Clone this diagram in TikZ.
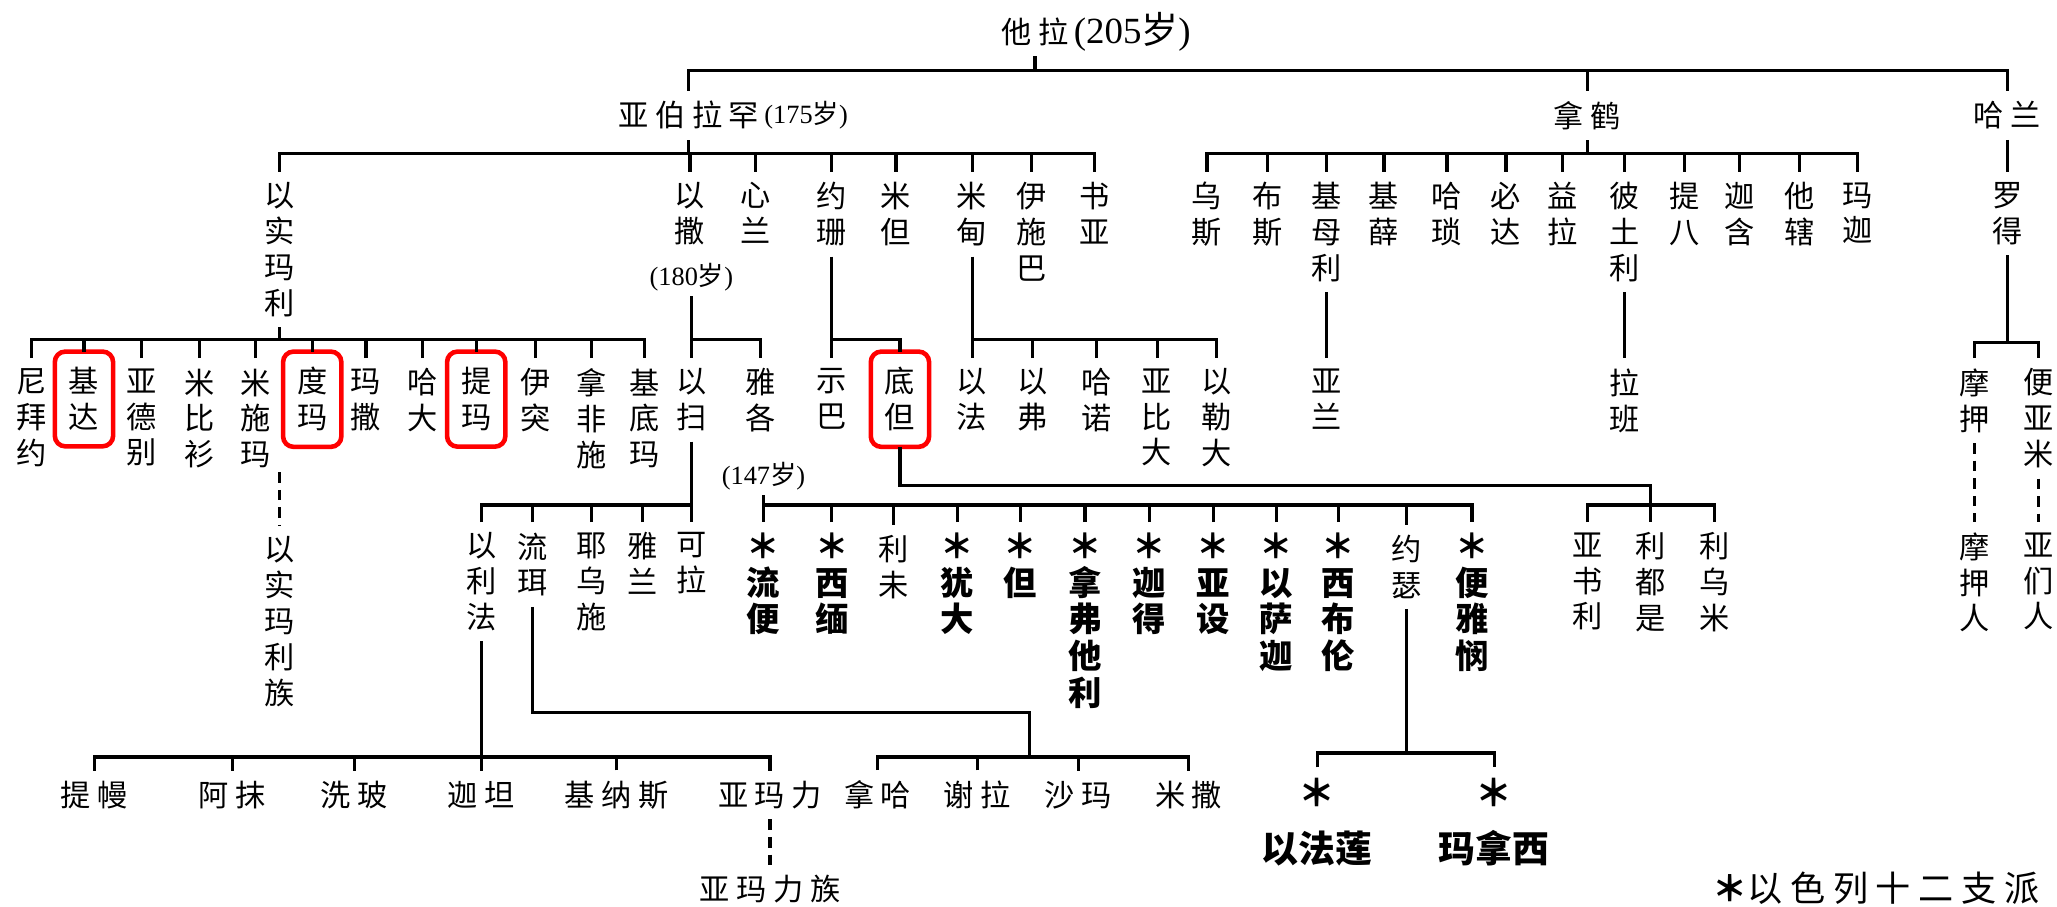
\documentclass[tikz,border=0pt]{standalone}
\usepackage{fontspec}
\setmainfont{Liberation Serif}
\newfontfamily\cjk{Noto Sans CJK SC}
\newcommand\chsp{\hspace{0.22em}}
\newcommand\vnfont{\cjk\fontsize{8.6}{10.2}\selectfont}
\newcommand\tbfont{\cjk\bfseries\fontsize{9.5}{10.45}\selectfont}
\newcommand\hbfont{\cjk\bfseries\fontsize{10.5}{12}\selectfont}
\newcommand\agefont{\fontsize{7.5}{8}\selectfont}
\newcommand\sui{{\cjk 岁}}

\begin{document}
\begin{tikzpicture}
[
  x=0.01312cm, y=-0.01312cm,
  line/.style={line width=0.9pt},
  kin/.style={line width=0.9pt,dash pattern=on 3pt off 2pt},
  vn/.style={font=\vnfont,align=center,inner sep=1pt,outer sep=2pt,anchor=north},
  hn/.style={font=\vnfont,inner sep=1pt,outer sep=2pt},
  tribe/.style={vn,font=\tbfont},
  hl/.style={draw=red,line width=1.3pt,rounded corners=3pt,inner xsep=4pt,inner ysep=4.5pt,outer sep=0pt},
  age/.style={font=\agefont,inner sep=0.5pt,outer sep=1pt}
]
\useasboundingbox (0,0) rectangle (1568,691);

\node[hn] (terah) at (789,24) {他\chsp 拉};
\node[age,font=\fontsize{10.5}{12}\selectfont,anchor=west,xshift=-3pt] (terahage) at (terah.east) {(205\sui)};

\node[hn] (abram) at (525,88) {亚\chsp 伯\chsp 拉\chsp 罕};
\node[age,anchor=west,xshift=-3pt] (abramage) at (abram.east) {(175\sui)};
\node[hn] (nahor) at (1210,88) {拿\chsp 鹤};
\node[hn] (haran) at (1530,88) {哈\chsp 兰};

\node[vn] (ishmael) at (213,131) {以\\实\\玛\\利};
\node[vn] (isaac) at (526,131) {以\\撒};
\node[vn] (zimran) at (576,131) {心\\兰};
\node[vn] (jokshan) at (634,131) {约\\珊};
\node[vn] (medan) at (683,131) {米\\但};
\node[vn] (midian) at (741,131) {米\\甸};
\node[vn] (ishbak) at (786,131) {伊\\施\\巴};
\node[vn] (shuah) at (834,131) {书\\亚};
\node[age] (isaacage) at (527,211) {(180\sui)};

\node[vn] (uz) at (920,131) {乌\\斯};
\node[vn] (buz) at (966,131) {布\\斯};
\node[vn] (kemuel) at (1011,131) {基\\母\\利};
\node[vn] (chesed) at (1055,131) {基\\薛};
\node[vn] (hazo) at (1103,131) {哈\\琐};
\node[vn] (pildash) at (1148,131) {必\\达};
\node[vn] (jidlaph) at (1191,131) {益\\拉};
\node[vn] (bethuel) at (1238,131) {彼\\土\\利};
\node[vn] (tebah) at (1284,131) {提\\八};
\node[vn] (gaham) at (1326,131) {迦\\含};
\node[vn] (tahash) at (1372,131) {他\\辖};
\node[vn] (maacah) at (1416,131) {玛\\迦};
\node[vn] (lot) at (1530,131) {罗\\得};

\node[vn] (nebaioth) at (24,273) {尼\\拜\\约};
\node[vn,hl] (kedar) at (64,268) {基\\达};
\node[vn] (adbeel) at (108,273) {亚\\德\\别};
\node[vn] (mibsam) at (152,273) {米\\比\\衫};
\node[vn] (mishma) at (195,273) {米\\施\\玛};
\node[vn,hl] (dumah) at (238,268) {度\\玛};
\node[vn] (massa) at (279,273) {玛\\撒};
\node[vn] (hadad) at (322,273) {哈\\大};
\node[vn,hl] (tema) at (363,268) {提\\玛};
\node[vn] (jetur) at (408,273) {伊\\突};
\node[vn] (naphish) at (451,273) {拿\\非\\施};
\node[vn] (kedemah) at (491,273) {基\\底\\玛};
\coordinate (ishm) at (213,360);
\node[vn] (ishmaelites) at (213,401) {以\\实\\玛\\利\\族};

\node[vn] (esau) at (527,273) {以\\扫};
\node[vn] (jacob) at (580,273) {雅\\各};
\node[age] (jacobage) at (582,363) {(147\sui)};
\node[vn] (sheba) at (634,273) {示\\巴};
\node[vn,hl] (dedan) at (686,268) {底\\但};
\node[vn] (ephah) at (741,273) {以\\法};
\node[vn] (epher) at (787,273) {以\\弗};
\node[vn] (hanoch) at (836,273) {哈\\诺};
\node[vn] (abida) at (882,273) {亚\\比\\大};
\node[vn] (eldaah) at (927,273) {以\\勒\\大};
\node[vn] (aram) at (1011,273) {亚\\兰};
\node[vn] (laban) at (1238,273) {拉\\班};
\node[vn] (moab) at (1505,273) {摩\\押};
\node[vn] (benammi) at (1554,273) {便\\亚\\米};
\node[vn] (moabites) at (1505,398) {摩\\押\\人};
\node[vn] (ammonites) at (1554,398) {亚\\们\\人};

\node[vn] (eliphaz) at (367,398) {以\\利\\法};
\node[vn] (reuel) at (406,398) {流\\珥};
\node[vn] (jeush) at (451,398) {耶\\乌\\施};
\node[vn] (jalam) at (490,398) {雅\\兰};
\node[vn] (korah) at (527,398) {可\\拉};

\node[tribe] (reuben) at (582,398) {＊\\流\\便};
\node[tribe] (simeon) at (634,398) {＊\\西\\缅};
\node[vn] (levi) at (681,400) {利\\未};
\node[tribe] (judah) at (730,398) {＊\\犹\\大};
\node[tribe] (dan) at (778,398) {＊\\但};
\node[tribe] (naphtali) at (827,398) {＊\\拿\\弗\\他\\利};
\node[tribe] (gad) at (876,398) {＊\\迦\\得};
\node[tribe] (asher) at (925,398) {＊\\亚\\设};
\node[tribe] (issachar) at (973,398) {＊\\以\\萨\\迦};
\node[tribe] (zebulun) at (1020,398) {＊\\西\\布\\伦};
\node[vn] (joseph) at (1072,400) {约\\瑟};
\node[tribe] (benjamin) at (1122,398) {＊\\便\\雅\\悯};

\node[vn] (asshurim) at (1210,398) {亚\\书\\利};
\node[vn] (letushim) at (1258,398) {利\\都\\是};
\node[vn] (leummim) at (1307,398) {利\\乌\\米};

\node[hn] (teman) at (72,606) {提\chsp 幔};
\node[hn] (omar) at (177,606) {阿\chsp 抹};
\node[hn] (zepho) at (270,606) {洗\chsp 玻};
\node[hn] (gatam) at (367,606) {迦\chsp 坦};
\node[hn] (kenaz) at (470,606) {基\chsp 纳\chsp 斯};
\node[hn] (amalek) at (587,606) {亚\chsp 玛\chsp 力};
\node[hn] (amalekites) at (587,678) {亚\chsp 玛\chsp 力\chsp 族};
\node[hn] (nahath) at (669,606) {拿\chsp 哈};
\node[hn] (zerah) at (745,606) {谢\chsp 拉};
\node[hn] (shammah) at (822,606) {沙\chsp 玛};
\node[hn] (mizzah) at (906,606) {米\chsp 撒};

\node[tribe,font=\hbfont] (ephraim) at (1004,585) {＊\\[4pt]以法莲};
\node[tribe,font=\hbfont] (manasseh) at (1139,585) {＊\\[4pt]玛拿西};

\node[hn,font=\cjk\fontsize{10}{12}\selectfont] (legend) at (1430,677) {{\bfseries ＊}以\chsp 色\chsp 列\chsp 十\chsp 二\chsp 支\chsp 派};

\coordinate (bTerah) at (789,54);
\coordinate (bAbram) at (525,117);
\coordinate (bNahor) at (1210,117);
\coordinate (bIshmael) at (213,259);
\coordinate (bIsaac) at (527,259);
\coordinate (bJokshan) at (634,259);
\coordinate (bMidian) at (741,259);
\coordinate (bLot) at (1530,261);
\coordinate (bEsau) at (527,385);
\coordinate (bJacob) at (582,385);
\coordinate (dTurn) at (1258,370);
\coordinate (bDedan) at (1258,385);
\coordinate (rTurn) at (785,543);
\coordinate (bReuel) at (785,577);
\coordinate (bEliphaz) at (367,577);
\coordinate (bJoseph) at (1072,574);

\draw[line] (terah.south) -- (bTerah);
\draw[line] (abram.north) |- (bTerah) -| (haran.north);
\draw[line] (nahor.north) -- (nahor.north |- bTerah);

\draw[line] (abram.south) -- (bAbram);
\draw[line] (ishmael.north) |- (bAbram) -| (shuah.north);
\foreach \n in {isaac,zimran,jokshan,medan,midian,ishbak}
  \draw[line] (\n.north) -- (\n.north |- bAbram);

\draw[line] (nahor.south) -- (bNahor);
\draw[line] (uz.north) |- (bNahor) -| (maacah.north);
\foreach \n in {buz,kemuel,chesed,hazo,pildash,jidlaph,bethuel,tebah,gaham,tahash}
  \draw[line] (\n.north) -- (\n.north |- bNahor);
\draw[line] (kemuel.south) -- (aram.north);
\draw[line] (bethuel.south) -- (laban.north);

\draw[line] (haran.south) -- (lot.north);
\draw[line] (lot.south) -- (bLot);
\draw[line] (moab.north) |- (bLot) -| (benammi.north);
\draw[kin] (moab.south) -- (moabites.north);
\draw[kin] (benammi.south) -- (ammonites.north);

\draw[line] (ishmael.south) -- (bIshmael);
\draw[line] (nebaioth.north) |- (bIshmael) -| (kedemah.north);
\foreach \n in {kedar,adbeel,mibsam,mishma,dumah,massa,hadad,tema,jetur,naphish}
  \draw[line] (\n.north) -- (\n.north |- bIshmael);
\draw[kin] (ishm) -- (ishmaelites.north);

\draw[line] (isaacage.south) -- (esau.north);
\draw[line] (bIsaac) -| (jacob.north);
\draw[line] (jokshan.south) -- (sheba.north);
\draw[line] (bJokshan) -| (dedan.north);
\draw[line] (midian.south) -- (ephah.north);
\draw[line] (bMidian) -| (eldaah.north);
\foreach \n in {epher,hanoch,abida}
  \draw[line] (\n.north) -- (\n.north |- bMidian);

\draw[line] (esau.south) -- (korah.north);
\draw[line] (eliphaz.north) |- (bEsau);
\foreach \n in {reuel,jeush,jalam}
  \draw[line] (\n.north) -- (\n.north |- bEsau);
\draw[line] (eliphaz.south) -- (gatam.north);
\draw[line] (teman.north) |- (bEliphaz) -| (amalek.north);
\foreach \n in {omar,zepho,kenaz}
  \draw[line] (\n.north) -- (\n.north |- bEliphaz);
\draw[kin] (amalek.south) -- (amalekites.north);
\draw[line] (reuel.south) |- (rTurn) -- (bReuel);
\draw[line] (nahath.north) |- (bReuel) -| (mizzah.north);
\foreach \n in {zerah,shammah}
  \draw[line] (\n.north) -- (\n.north |- bReuel);

\draw[line] (jacobage.south) -- (reuben.north);
\draw[line] (bJacob) -| (benjamin.north);
\foreach \n in {simeon,levi,judah,dan,naphtali,gad,asher,issachar,zebulun,joseph}
  \draw[line] (\n.north) -- (\n.north |- bJacob);
\draw[line] (joseph.south) -- (bJoseph);
\draw[line] (ephraim.north) |- (bJoseph) -| (manasseh.north);

\draw[line] (dedan.south) |- (dTurn) -- (letushim.north);
\draw[line] (asshurim.north) |- (bDedan) -| (leummim.north);
\end{tikzpicture}
\end{document}
